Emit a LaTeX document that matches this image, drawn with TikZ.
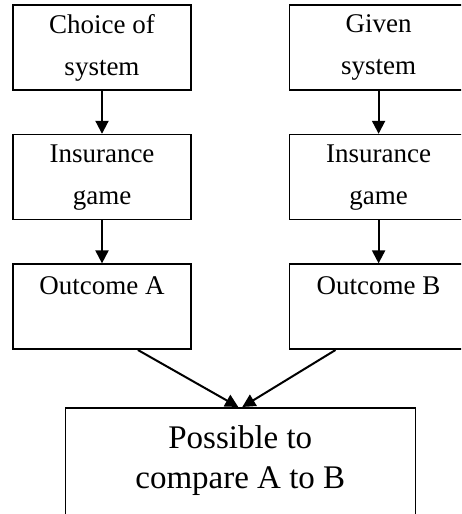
\documentclass[tikz,border=0pt]{standalone}
\usepackage{fontspec}
\setmainfont{Liberation Serif}
\usetikzlibrary{positioning,calc,arrows.meta}

\tikzset{
  stagebox/.style={draw,line width=1.6pt,minimum width=178pt,minimum height=85pt,
    align=center,inner sep=0pt,font=\fontsize{27}{42}\selectfont},
  flowarrow/.style={line width=2pt,-{Triangle[width=13pt,length=13pt]}}
}

\begin{document}
\begin{tikzpicture}[x=1pt,y=1pt]
    % Frame
    \useasboundingbox (0,0) rectangle (461,514);
    \clip (0,0) rectangle (461,514);

    % Left column
    \node[stagebox] (choice) at (102,466.5) {Choice of\\system};
    \node[stagebox,below=43pt of choice] (gameA) {Insurance\\game};
    \node[stagebox,below=43pt of gameA] (outA) {Outcome A\\~};

    % Right column
    \node[stagebox,right=97pt of choice] (given) {Given\\system};
    \node[stagebox,below=43pt of given] (gameB) {Insurance\\game};
    \node[stagebox,below=43pt of gameB] (outB) {Outcome B\\~};

    % Comparison box
    \coordinate (mid) at ($(outA.south)!0.5!(outB.south)$);
    \node[stagebox,below=57pt of mid,minimum width=350pt,minimum height=138pt,
      font=\fontsize{33}{40}\selectfont] (compare) {Possible to\\compare A to B\\~};

    % Arrows
    \draw[flowarrow] (choice) -- (gameA);
    \draw[flowarrow] (gameA) -- (outA);
    \draw[flowarrow] (given) -- (gameB);
    \draw[flowarrow] (gameB) -- (outB);
    \draw[flowarrow] ($(outA.south west)!0.7!(outA.south east)$) -- ([xshift=-2pt]compare.north);
    \draw[flowarrow] ($(outB.south west)!0.26!(outB.south east)$) -- ([xshift=2pt]compare.north);
\end{tikzpicture}
\end{document}
